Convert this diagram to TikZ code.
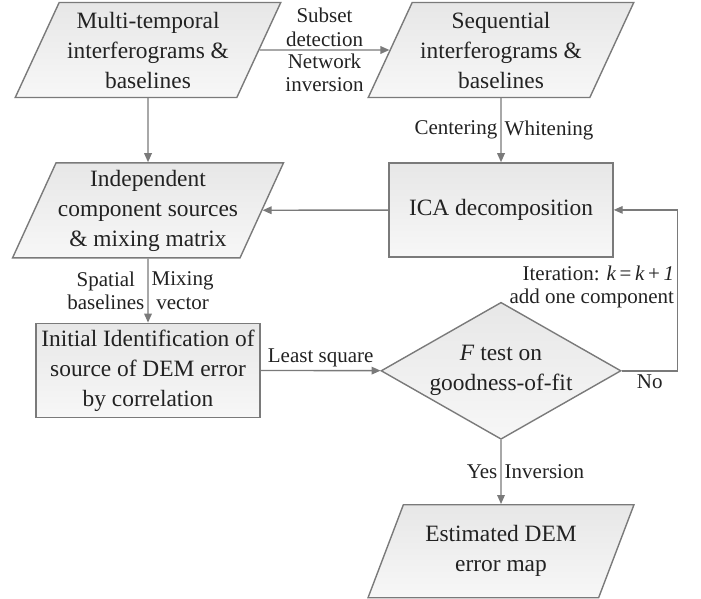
\documentclass[tikz,border=0pt]{standalone}
\usepackage{fontspec}
\setmainfont{Liberation Serif}
\usetikzlibrary{arrows.meta,positioning,shapes.geometric}
\definecolor{Ink}{HTML}{222222}
\definecolor{Wire}{HTML}{7A7A7A}
\definecolor{ShadeTop}{HTML}{E7E7E7}
\definecolor{ShadeBot}{HTML}{F7F7F7}
\tikzset{
  box/.style={
    draw=Wire, line width=0.7pt, top color=ShadeTop, bottom color=ShadeBot,
    text=Ink, align=center, font=\fontsize{11.7}{15}\selectfont
  },
  dataset/.style={
    box, trapezium, trapezium left angle=63, trapezium right angle=117,
    trapezium stretches=true, inner sep=1pt, minimum width=133pt, minimum height=47.5pt
  },
  process/.style={box, rectangle, minimum width=112pt, minimum height=47pt, inner sep=2pt},
  decision/.style={box, diamond, aspect=1.75, minimum width=120pt, minimum height=68.5pt, inner sep=0pt},
  flow/.style={-{Triangle[length=4.5pt,width=3.8pt]}, line width=0.7pt, draw=Wire},
  tag/.style={text=Ink, font=\fontsize{10.5}{11.8}\selectfont, align=center, inner sep=1.5pt}
}

\begin{document}
\begin{tikzpicture}[x=0.5pt, y=-0.5pt, node distance=32pt]
  \useasboundingbox (0,0) rectangle (701,599);
  \node[dataset] (multi) at (148,50) {Multi-temporal\\interferograms \&\\baselines};
  \node[dataset] (seq) at (501,50) {Sequential\\interferograms \&\\baselines};
  \node[dataset, below=of multi] (indep) {Independent\\component sources\\\& mixing matrix};
  \node[process, below=of seq] (ica) {ICA decomposition};
  \node[process, below=of indep] (init) {Initial Identification of\\source of DEM error\\by correlation};
  \node[decision, below=22pt of ica] (ftest) {\textit{F} test on\\goodness-of-fit};
  \node[dataset, below=of ftest, minimum height=46.5pt] (final) {Estimated DEM\\error map};
  \coordinate[right=28pt of ftest] (loop);

  \draw[flow] (multi) -- node[tag, above]{Subset\\detection} node[tag, below]{Network\\inversion} (seq);
  \draw[flow] (multi) -- (indep);
  \draw[flow] (seq) -- node[tag, left]{Centering} node[tag, right]{Whitening} (ica);
  \draw[flow] (ica) -- (indep);
  \draw[flow] (indep) -- node[tag, left]{Spatial\\baselines} node[tag, right]{Mixing\\vector} (init);
  \draw[flow] (init) -- node[tag, above]{Least square} (ftest);
  \draw[flow] (ftest) -- node[tag, left]{Yes} node[tag, right]{Inversion} (final);
  \draw[flow] (ftest) -- node[tag, below]{No} (loop)
    |- node[tag, left, align=right, pos=0.26]{Iteration: \textit{k}\,=\,\textit{k}\,+\,\textit{1}\\add one component} (ica);
\end{tikzpicture}
\end{document}
